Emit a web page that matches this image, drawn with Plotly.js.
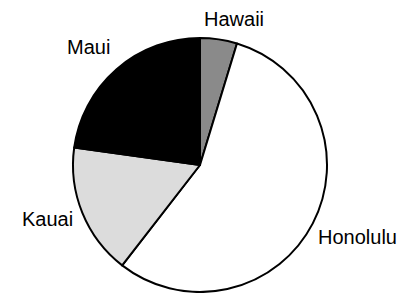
<!DOCTYPE html>
<html><head><meta charset="utf-8">
<script src="https://cdn.plot.ly/plotly-3.0.1.min.js"></script>
<style>html,body{margin:0;padding:0;background:#fff}#c{width:407px;height:293px}</style>
</head><body><div id="c"></div>
<script>
const islands = ["Hawaii", "Honolulu", "Kauai", "Maui"];
const shares = [4.7, 55.8, 16.7, 22.8];
const sliceColors = ["#8a8a8a", "#ffffff", "#dcdcdc", "#000000"];
// label anchor positions in pixels (layout only)
const labelPx = [[234, 19], [357, 237], [47, 219], [88, 47]];

const W = 407, H = 293;
const annotations = islands.map((name, i) => ({
  text: name,
  x: labelPx[i][0] / W, y: 1 - labelPx[i][1] / H,
  xref: "paper", yref: "paper",
  xanchor: "center", yanchor: "middle",
  showarrow: false,
  font: {family: "Liberation Sans, Arial, sans-serif", size: 20, color: "#000"}
}));

Plotly.newPlot("c", [{
  type: "pie",
  labels: islands,
  values: shares,
  sort: false,
  direction: "clockwise",
  rotation: 0,
  textinfo: "none",
  hoverinfo: "none",
  marker: {colors: sliceColors, line: {color: "#000", width: 2}},
  domain: {x: [73/W, 327/W], y: [1/H, 255/H]}
}], {
  width: W, height: H,
  margin: {l: 0, r: 0, t: 0, b: 0},
  showlegend: false,
  paper_bgcolor: "#fff",
  annotations: annotations
}, {staticPlot: true});
</script></body></html>
